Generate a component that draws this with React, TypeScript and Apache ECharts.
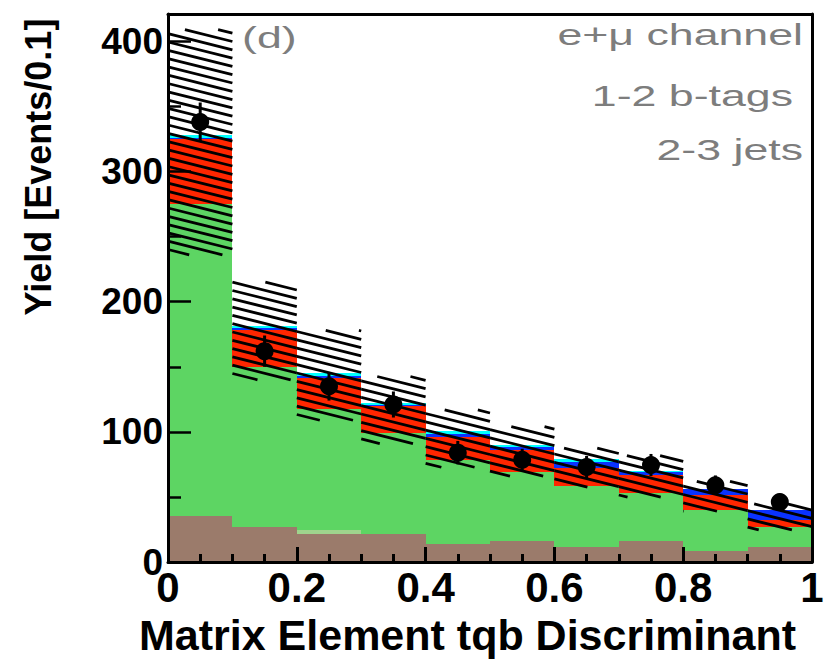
import React, { useEffect, useRef } from "react";
import * as echarts from "echarts";

// Bin lower edges of the discriminant histogram (bin width 0.1)
const binLow = [0, 0.1, 0.2, 0.3, 0.4, 0.5, 0.6, 0.7, 0.8, 0.9];
const binWidth = 0.1;

// Stacked background / signal components (events per bin), bottom to top
const multijet = [35, 27, 21.5, 21.5, 13.8, 16, 11.8, 16, 8.7, 11.8];
const zjets = [0, 0, 3, 0, 0, 0, 0, 0, 0, 0];
const wjets = [240, 123, 93, 77.5, 64.7, 53.5, 46.7, 37.3, 31.3, 15.4];
const ttbar = [50, 28, 24.2, 21, 17.4, 16.5, 13.5, 13.7, 11.5, 5.3];
const tqb = [0.5, 1.5, 1.2, 0.8, 2.6, 2, 5, 2.5, 4.5, 7.5];
const tb = [2.5, 1.5, 2, 1.2, 2.3, 2, 2.5, 0.3, 0, 0];

// Uncertainty band on the total prediction (up / down)
const uncUp = [81, 34, 33, 20.5, 16, 14, 8, 12, 6, 4.6];
const uncDown = [92, 41, 36, 31, 28, 24, 22, 20, 17, 15.4];

// Observed data and its error
const dataYield = [338, 162, 135, 121, 84, 78.5, 73, 74.5, 59, 46];
const dataErr = [15, 12, 11, 10, 9, 8.5, 8.5, 8.5, 7.5, 6.5];

const FONT = "'Liberation Sans', Arial, Helvetica, sans-serif";

const components = [
  { name: "Multijets", values: multijet, color: "#9b7b6b" },
  { name: "Z+jets", values: zjets, color: "#9fd48d" },
  { name: "W+jets", values: wjets, color: "#5dd563" },
  { name: "ttbar", values: ttbar, color: "#ff2600" },
  { name: "tqb", values: tqb, color: "#0a32ff" },
  { name: "tb", values: tb, color: "#00ffff" },
];

function buildOption() {
  const base = binLow.map(() => 0);
  const stackSeries: any[] = components.map((c) => {
    const data = binLow.map((x, i) => {
      const lo = base[i];
      const hi = lo + c.values[i];
      base[i] = hi;
      return [x, lo, hi];
    });
    return {
      type: "custom",
      name: c.name,
      z: 2,
      silent: true,
      data,
      encode: { x: 0, y: [1, 2] },
      renderItem: (params: any, api: any) => {
        const x0 = api.value(0);
        const lo = api.value(1);
        const hi = api.value(2);
        if (hi - lo <= 0) return null;
        const p0 = api.coord([x0, hi]);
        const p1 = api.coord([x0 + binWidth, lo]);
        const xl = Math.round(p0[0]);
        const xr = Math.round(p1[0]);
        const yt = Math.round(p0[1]);
        const yb = Math.round(p1[1]);
        if (yb - yt <= 0) return null;
        return {
          type: "rect",
          shape: { x: xl, y: yt, width: xr - xl, height: yb - yt },
          style: { fill: c.color },
        };
      },
    };
  });
  const totals = base.slice();

  const hatchData = binLow.map((x, i) => [x, totals[i] - uncDown[i], totals[i] + uncUp[i]]);
  const slope = 0.25;
  const spacing = 8.3;
  const hatchSeries = {
    type: "custom",
    name: "Uncertainty",
    z: 5,
    silent: true,
    data: hatchData,
    encode: { x: 0, y: [1, 2] },
    renderItem: (params: any, api: any) => {
      const x0 = api.value(0);
      const lo = api.value(1);
      const hi = api.value(2);
      const pA = api.coord([x0, hi]);
      const pB = api.coord([x0 + binWidth, lo]);
      const xa = pA[0], ya = pA[1], xb = pB[0], yb = pB[1];
      const children: any[] = [];
      const kmin = Math.floor((ya - slope * xb) / spacing);
      const kmax = Math.ceil((yb - slope * xa) / spacing);
      for (let k = kmin; k <= kmax; k++) {
        const c = k * spacing;
        const xs = Math.max(xa, (ya - c) / slope);
        const xe = Math.min(xb, (yb - c) / slope);
        if (xe - xs > 0.5) {
          children.push({
            type: "line",
            shape: { x1: xs, y1: c + slope * xs, x2: xe, y2: c + slope * xe },
            style: { stroke: "#000", lineWidth: 2.8 },
          });
        }
      }
      return { type: "group", children };
    },
  };

  const errSeries = {
    type: "custom",
    name: "DataErr",
    z: 9,
    silent: true,
    data: binLow.map((x, i) => [x + binWidth / 2, dataYield[i] - dataErr[i], dataYield[i] + dataErr[i]]),
    encode: { x: 0, y: [1, 2] },
    renderItem: (params: any, api: any) => {
      const p0 = api.coord([api.value(0), api.value(2)]);
      const p1 = api.coord([api.value(0), api.value(1)]);
      return {
        type: "line",
        shape: { x1: p0[0], y1: p0[1], x2: p1[0], y2: p1[1] },
        style: { stroke: "#000", lineWidth: 3 },
      };
    },
  };

  const dataSeries = {
    type: "scatter",
    name: "Data",
    z: 10,
    silent: true,
    symbol: "circle",
    symbolSize: 18,
    itemStyle: { color: "#000", opacity: 1 },
    data: binLow.map((x, i) => [x + binWidth / 2, dataYield[i]]),
  };

  const axisLineStyle = { color: "#000", width: 3 };

  return {
    animation: false,
    backgroundColor: "#fff",
    grid: { left: 168, right: 16, top: 14, bottom: 98, containLabel: false },
    xAxis: [
      {
        type: "value",
        min: 0,
        max: 1,
        interval: 0.2,
        position: "bottom",
        z: 20,
        axisLine: { show: true, onZero: false, lineStyle: axisLineStyle },
        axisTick: { show: true, inside: true, length: 15, lineStyle: { color: "#000", width: 3 } },
        minorTick: { show: true, splitNumber: 4, length: 8, lineStyle: { color: "#000", width: 3 } },
        splitLine: { show: false },
        axisLabel: {
          margin: 4,
          color: "#000",
          fontFamily: FONT,
          fontWeight: "bold",
          fontSize: 42,
        },
      },
      {
        type: "value",
        min: 0,
        max: 1,
        position: "top",
        z: 20,
        axisLine: { show: true, onZero: false, lineStyle: axisLineStyle },
        axisTick: { show: false },
        axisLabel: { show: false },
        splitLine: { show: false },
      },
    ],
    yAxis: [
      {
        type: "value",
        min: 0,
        max: 421,
        interval: 100,
        position: "left",
        z: 20,
        axisLine: { show: true, onZero: false, lineStyle: axisLineStyle },
        axisTick: { show: true, inside: true, length: 23, lineStyle: { color: "#000", width: 2.5 } },
        minorTick: { show: true, splitNumber: 2, length: 13, lineStyle: { color: "#000", width: 2.5 } },
        splitLine: { show: false },
        axisLabel: {
          margin: 5,
          showMaxLabel: false,
          color: "#000",
          fontFamily: FONT,
          fontWeight: "bold",
          fontSize: 37,
        },
      },
      {
        type: "value",
        min: 0,
        max: 421,
        position: "right",
        z: 20,
        axisLine: { show: true, onZero: false, lineStyle: axisLineStyle },
        axisTick: { show: false },
        axisLabel: { show: false },
        splitLine: { show: false },
      },
    ],
    graphic: [
      {
        type: "text",
        x: 38,
        y: 167,
        rotation: Math.PI / 2,
        z: 50,
        style: {
          text: "Yield [Events/0.1]",
          fontFamily: FONT,
          fontWeight: "bold",
          fontSize: 36,
          fill: "#000",
          align: "center",
          verticalAlign: "middle",
        },
      },
      {
        type: "text",
        x: 139,
        y: 635,
        z: 50,
        style: {
          text: "Matrix Element tqb Discriminant",
          fontFamily: FONT,
          fontWeight: "bold",
          fontSize: 43,
          fill: "#000",
          align: "left",
          verticalAlign: "middle",
        },
      },
      {
        type: "text",
        x: 242,
        y: 38,
        scaleX: 1.49,
        z: 50,
        style: { text: "(d)", fontFamily: FONT, fontSize: 30, fill: "#7d7d7d", align: "left", verticalAlign: "middle" },
      },
      {
        type: "text",
        x: 803,
        y: 35,
        scaleX: 1.49,
        z: 50,
        style: { text: "e+\u03bc channel", fontFamily: FONT, fontSize: 30, fill: "#7d7d7d", align: "right", verticalAlign: "middle" },
      },
      {
        type: "text",
        x: 793,
        y: 96,
        scaleX: 1.49,
        z: 50,
        style: { text: "1-2 b-tags", fontFamily: FONT, fontSize: 30, fill: "#7d7d7d", align: "right", verticalAlign: "middle" },
      },
      {
        type: "text",
        x: 803,
        y: 150,
        scaleX: 1.49,
        z: 50,
        style: { text: "2-3 jets", fontFamily: FONT, fontSize: 30, fill: "#7d7d7d", align: "right", verticalAlign: "middle" },
      },
    ],
    series: [...stackSeries, hatchSeries, errSeries, dataSeries],
  };
}

export default function App() {
  const ref = useRef<HTMLDivElement>(null);
  useEffect(() => {
    if (!ref.current) return;
    const chart = echarts.init(ref.current, undefined, { renderer: "svg" });
    chart.setOption(buildOption() as any);
    return () => chart.dispose();
  }, []);
  return <div ref={ref} style={{ width: 828, height: 660, position: "absolute", left: 0, top: 0 }} />;
}
